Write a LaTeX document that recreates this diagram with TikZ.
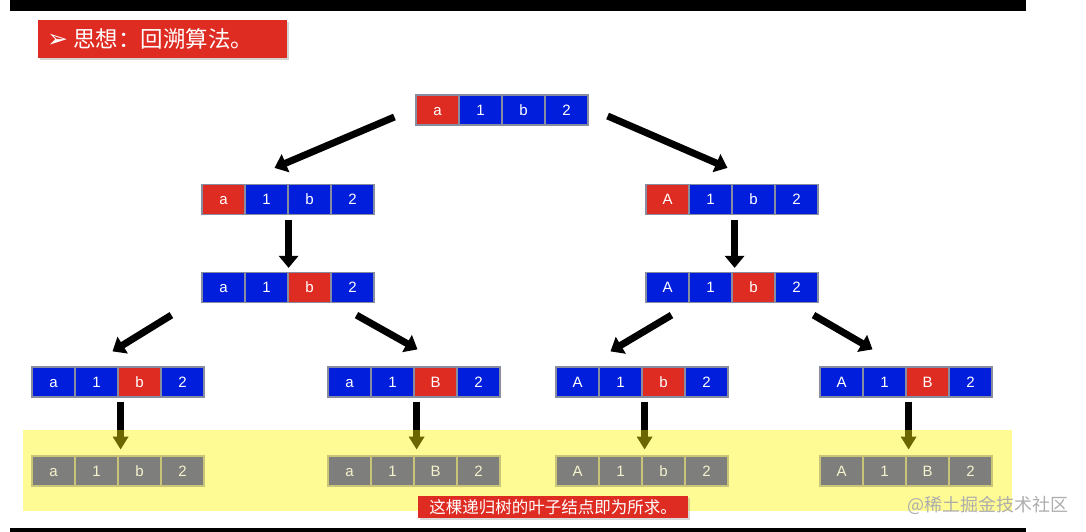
\documentclass[tikz,border=0pt]{standalone}
\usepackage{fontspec}
\setmainfont{Liberation Sans}
\newfontfamily\cjk{Noto Sans CJK SC}
\newfontfamily\dejavu{DejaVu Sans}
\usetikzlibrary{arrows.meta,calc,shadows}
\definecolor{cred}{RGB}{222,44,34}
\definecolor{cblue}{RGB}{0,30,220}
\definecolor{cgray}{RGB}{126,126,124}
\definecolor{cborder}{RGB}{135,140,160}
\definecolor{lborder}{RGB}{200,196,120}
\definecolor{ltext}{RGB}{245,242,205}
\definecolor{band}{RGB}{255,245,0}
\tikzset{
  cell/.style={draw=cborder,line width=1.2pt,minimum width=43pt,minimum height=30pt,inner sep=0pt,text=white,font=\fontsize{15}{17}\selectfont,text height=10.5pt,text depth=0pt},
  leaf/.style={cell,fill=cgray,draw=lborder,text=ltext},
  bigarrow/.style={line width=7pt,-{Triangle[width=19pt,length=12pt]},black},
  banner/.style={fill=cred,text=white,inner sep=0pt,anchor=north west},
}
\newcommand\cellrow[5]{%
  \foreach \c/\t [count=\i] in {#5}
    \node[#4,fill=\c] (#1-\i) at ({#2+21.5+43*(\i-1)},#3) {\t};
}
\begin{document}
\begin{tikzpicture}[x=1pt,y=-1pt]
\useasboundingbox (0,0) rectangle (1086,532);
% black bars
\fill[black] (10,0) rectangle (1026,11);
\fill[black] (10,528) rectangle (1026,532);
% title
\node[banner,minimum width=249pt,minimum height=38pt,drop shadow={shadow xshift=2pt,shadow yshift=-2pt,opacity=0.35}] (title) at (38,20) {};
\node[text=white,anchor=west,inner sep=0pt] (titletext) at ($(title.west)+(9,0)$) {{\dejavu\fontsize{25}{26}\selectfont ➢}\hspace{5pt}{\cjk\fontsize{22.5}{24}\selectfont 思想：回溯算法。}};
% rows
\cellrow{r}{416}{110}{cell}{cred/a,cblue/1,cblue/b,cblue/2}
\cellrow{la}{202}{199.5}{cell}{cred/a,cblue/1,cblue/b,cblue/2}
\cellrow{ra}{646}{199.5}{cell}{cred/A,cblue/1,cblue/b,cblue/2}
\cellrow{lb}{202}{287.5}{cell}{cblue/a,cblue/1,cred/b,cblue/2}
\cellrow{rb}{646}{287.5}{cell}{cblue/A,cblue/1,cred/b,cblue/2}
\cellrow{c1}{32}{382}{cell}{cblue/a,cblue/1,cred/b,cblue/2}
\cellrow{c2}{328}{382}{cell}{cblue/a,cblue/1,cred/B,cblue/2}
\cellrow{c3}{556}{382}{cell}{cblue/A,cblue/1,cred/b,cblue/2}
\cellrow{c4}{820}{382}{cell}{cblue/A,cblue/1,cred/B,cblue/2}
% arrows
\draw[bigarrow] ($(r-1.west)+(-21,7)$) -- ($(la-2.north)+(8,-16)$);
\draw[bigarrow] ($(r-4.east)+(19,6)$) -- ($(ra-2.north)+(17,-16)$);
\draw[bigarrow] ($(la-2.south east)+(0,5)$) -- ($(lb-2.north east)+(0,-4)$);
\draw[bigarrow] ($(ra-2.south east)+(2,5)$) -- ($(rb-2.north east)+(2,-4)$);
\draw[bigarrow] ($(lb-1.south west)+(-30,12)$) -- ($(c1-2.north)+(16,-15)$);
\draw[bigarrow] ($(lb-4.south)+(4,12)$) -- ($(c2-3.north)+(-18,-17)$);
\draw[bigarrow] ($(rb-1.south)+(4,12)$) -- ($(c3-2.north)+(-10,-15)$);
\draw[bigarrow] ($(rb-4.south)+(17,12)$) -- ($(c4-2.north)+(-12,-17)$);
% leaf arrows
\foreach \k in {1,2,3,4}
  \draw[line width=7pt,-{Triangle[width=15pt,length=13pt]},black] ($(c\k-2.south east)+(2,4)$) -- ($(c\k-2.south east)+(2,52)$);
% yellow band
\fill[band,opacity=0.42] (23,430) rectangle (1012,511);
% leaves
\cellrow{d1}{32}{471}{leaf}{cgray/a,cgray/1,cgray/b,cgray/2}
\cellrow{d2}{328}{471}{leaf}{cgray/a,cgray/1,cgray/B,cgray/2}
\cellrow{d3}{556}{471}{leaf}{cgray/A,cgray/1,cgray/b,cgray/2}
\cellrow{d4}{820}{471}{leaf}{cgray/A,cgray/1,cgray/B,cgray/2}
% note
\node[fill=cred,text=white,minimum width=270pt,minimum height=22pt,inner sep=0pt,font=\cjk\fontsize{16.5}{17}\selectfont,drop shadow={shadow xshift=1.5pt,shadow yshift=-1.5pt,opacity=0.3}] (note) at (553,507) {这棵递归树的叶子结点即为所求。};
% watermark
\node[text=black!32,font=\cjk\fontsize{18}{19}\selectfont,inner sep=0pt,anchor=west] (wm) at (907,505) {@稀土掘金技术社区};
\end{tikzpicture}
\end{document}
